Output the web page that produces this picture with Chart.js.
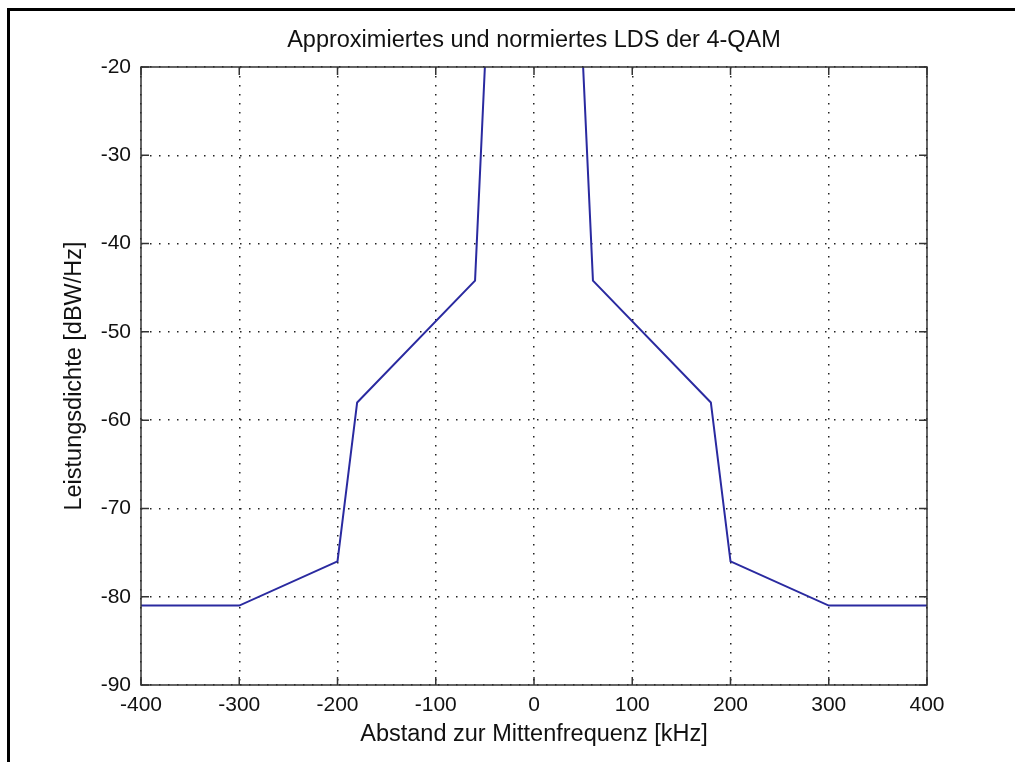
<!DOCTYPE html>
<html>
<head>
<meta charset="utf-8">
<title>LDS 4-QAM</title>
<script src="https://cdn.jsdelivr.net/npm/chart.js@4.4.1/dist/chart.umd.min.js"></script>
<style>
  html, body { margin: 0; padding: 0; background: #fff; }
  canvas { display: block; }
</style>
</head>
<body>
<canvas id="ldsChart" width="1015" height="762"></canvas>
<script>
// Frequenzabstand in kHz und approximierte Leistungsdichte in dBW/Hz
// (null = Spitze oberhalb des sichtbaren Bereichs)
var freqKHz = [-400, -300, -200, -180, -60, -50, 0, 50, 60, 180, 200, 300, 400];
var levelDb = [-81, -81, -76, -58, -44.2, -20, null, -20, -44.2, -58, -76, -81, -81];

var xTicks = [-400, -300, -200, -100, 0, 100, 200, 300, 400];
var yTicks = [-90, -80, -70, -60, -50, -40, -30, -20];

var titleText = 'Approximiertes und normiertes LDS der 4-QAM';
var xLabel = 'Abstand zur Mittenfrequenz [kHz]';
var yLabel = 'Leistungsdichte [dBW/Hz]';

var points = [];
for (var i = 0, len = freqKHz.length; i < len; i++) {
    points.push({x: freqKHz[i], y: levelDb[i]});
}

Chart.defaults.font.family = '"Liberation Sans", Arial, sans-serif';
Chart.defaults.color = '#111';

// Rahmen um die Abbildung, Achsenbox und nach innen zeigende Ticks
var matlabBox = {
    id: 'matlabBox',
    beforeDraw: function(chart) {
        var ctx = chart.ctx;
        ctx.save();
        ctx.fillStyle = '#fff';
        ctx.fillRect(0, 0, chart.width, chart.height);
        ctx.strokeStyle = '#000';
        ctx.lineWidth = 3;
        ctx.beginPath();
        ctx.moveTo(8.5, chart.height);
        ctx.lineTo(8.5, 9.5);
        ctx.lineTo(chart.width, 9.5);
        ctx.stroke();
        ctx.restore();
    },
    afterDraw: function(chart) {
        var ctx = chart.ctx;
        var a = chart.chartArea;
        var xs = chart.scales.x, ys = chart.scales.y;
        var len = 8;
        ctx.save();
        ctx.strokeStyle = '#333';
        ctx.lineWidth = 1.5;
        ctx.beginPath();
        xs.ticks.forEach(function(t) {
            var px = xs.getPixelForValue(t.value);
            ctx.moveTo(px, a.bottom); ctx.lineTo(px, a.bottom - len);
            ctx.moveTo(px, a.top); ctx.lineTo(px, a.top + len);
        });
        ys.ticks.forEach(function(t) {
            var py = ys.getPixelForValue(t.value);
            ctx.moveTo(a.left, py); ctx.lineTo(a.left + len, py);
            ctx.moveTo(a.right, py); ctx.lineTo(a.right - len, py);
        });
        ctx.stroke();
        ctx.strokeRect(a.left, a.top, a.right - a.left, a.bottom - a.top);
        ctx.restore();
    }
};

var ctx = document.getElementById('ldsChart');
var ldsChart = new Chart(ctx, {
    type: 'line',
    data: {
        datasets: [{
            data: points,
            borderColor: '#2a2aa0',
            borderWidth: 2,
            pointRadius: 0,
            tension: 0,
            spanGaps: false,
            fill: false
        }]
    },
    options: {
        responsive: false,
        animation: false,
        devicePixelRatio: 1,
        layout: { padding: { left: 0, right: 88, top: 0, bottom: 0 } },
        plugins: {
            legend: { display: false },
            tooltip: { enabled: false }
        },
        scales: {
            // obere Achse nur fuer den Titel, damit er ueber dem Plotbereich zentriert ist
            top: {
                type: 'linear',
                position: 'top',
                min: -400,
                max: 400,
                afterFit: function(scale) { scale.height = 67; },
                ticks: { display: false },
                grid: { display: false, drawTicks: false },
                border: { display: false },
                title: {
                    display: true,
                    text: titleText,
                    color: '#111',
                    font: { size: 23.5 },
                    padding: { top: 26, bottom: 0 }
                }
            },
            x: {
                type: 'linear',
                min: -400,
                max: 400,
                afterBuildTicks: function(scale) {
                    scale.ticks = xTicks.map(function(v) { return {value: v}; });
                },
                afterFit: function(scale) { scale.height = 77; },
                ticks: { padding: 8, font: { size: 21 }, color: '#111', maxRotation: 0 },
                grid: { color: '#222', lineWidth: 1.5, drawTicks: false },
                border: { display: false, dash: [1.5, 7.5] },
                title: {
                    display: true,
                    text: xLabel,
                    color: '#111',
                    font: { size: 23.5 },
                    padding: { top: 0, bottom: 13 }
                }
            },
            y: {
                type: 'linear',
                min: -90,
                max: -20,
                afterBuildTicks: function(scale) {
                    scale.ticks = yTicks.map(function(v) { return {value: v}; });
                },
                afterFit: function(scale) { scale.width = 141; },
                ticks: { padding: 10, font: { size: 21 }, color: '#111' },
                grid: { color: '#222', lineWidth: 1.5, drawTicks: false },
                border: { display: false, dash: [1.5, 7.5] },
                title: {
                    display: true,
                    text: yLabel,
                    color: '#111',
                    font: { size: 23.5 },
                    padding: { top: 60, bottom: 0 }
                }
            }
        }
    },
    plugins: [matlabBox]
});
</script>
</body>
</html>
